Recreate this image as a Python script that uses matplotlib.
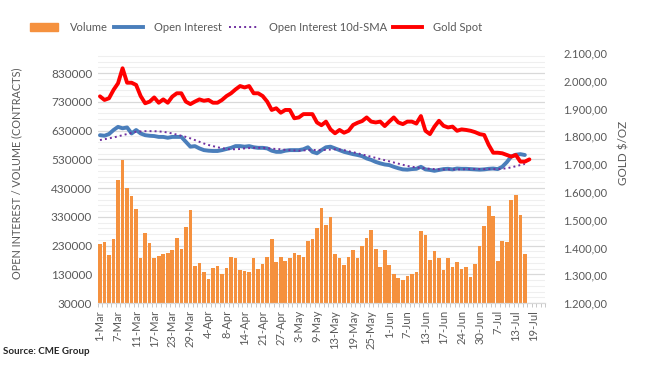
import numpy as np
import matplotlib
matplotlib.use("Agg")
import matplotlib.pyplot as plt
from matplotlib.lines import Line2D
from matplotlib.patches import Patch
from matplotlib.ticker import FixedLocator, FuncFormatter

plt.rcParams['font.family'] = ['Lato', 'DejaVu Sans']

# trading days 1-Mar .. 15-Jul (volume / OI), gold runs one day longer
volume = [234000, 241000, 196000, 252000, 457000, 527000, 429000, 401000, 356000, 187000,
          272000, 238000, 187000, 192000, 199000, 203000, 213000, 255000, 218000, 293000,
          352000, 158000, 168000, 137000, 112000, 151000, 158000, 130000, 151000, 189000,
          185000, 144000, 140000, 137000, 185000, 147000, 165000, 189000, 252000, 172000,
          189000, 175000, 185000, 203000, 196000, 189000, 245000, 252000, 290000, 359000,
          303000, 328000, 199000, 185000, 161000, 189000, 213000, 185000, 227000, 255000,
          283000, 217000, 154000, 213000, 161000, 130000, 116000, 109000, 123000, 130000,
          137000, 279000, 265000, 178000, 210000, 185000, 144000, 185000, 154000, 172000,
          147000, 154000, 119000, 165000, 227000, 297000, 366000, 332000, 175000, 245000,
          241000, 387000, 405000, 335000, 199000]

open_interest = [614000, 612000, 618000, 632000, 643000, 638000, 641000, 620000, 632000, 620000,
                 614000, 612000, 611000, 608000, 608000, 605000, 608000, 608000, 608000, 591000,
                 574000, 576000, 568000, 562000, 560000, 559000, 559000, 562000, 566000, 570000,
                 576000, 576000, 574000, 576000, 572000, 570000, 570000, 568000, 560000, 556000,
                 556000, 560000, 562000, 562000, 562000, 565000, 572000, 556000, 551000, 562000,
                 572000, 574000, 568000, 562000, 556000, 552000, 548000, 545000, 541000, 533000,
                 528000, 521000, 516000, 512000, 510000, 504000, 499000, 495000, 494000, 496000,
                 497000, 504000, 495000, 493000, 490000, 493000, 496000, 497000, 495000, 498000,
                 497000, 497000, 496000, 495000, 494000, 495000, 497000, 498000, 496000, 504000,
                 520000, 540000, 546000, 548000, 545000]

oi_sma = [597000, 600000, 603000, 606000, 610000, 614000, 618000, 622000, 626000, 627000,
          628000, 628000, 628000, 627000, 626000, 623000, 620000, 616000, 612000, 608000,
          603000, 597000, 591000, 585000, 580000, 576000, 572000, 569000, 566000, 565000,
          565000, 566000, 568000, 569000, 570000, 570000, 570000, 569000, 567000, 566000,
          565000, 563000, 562000, 561000, 560000, 561000, 562000, 563000, 562000, 562000,
          563000, 564000, 565000, 564000, 562000, 558000, 555000, 551000, 547000, 543000,
          539000, 535000, 531000, 527000, 523000, 519000, 515000, 511000, 507000, 504000,
          502000, 500000, 498000, 497000, 496000, 495000, 495000, 495000, 495000, 495000,
          495000, 496000, 496000, 496000, 496000, 496000, 496000, 496000, 496000, 497000,
          499000, 502000, 506000, 510000, 514000]

gold = [1944, 1931, 1937, 1967, 1991, 2045, 1993, 1993, 1985, 1945,
        1919, 1925, 1940, 1921, 1933, 1921, 1943, 1955, 1955, 1925,
        1916, 1925, 1933, 1928, 1931, 1921, 1921, 1931, 1945, 1955,
        1969, 1981, 1976, 1981, 1955, 1955, 1945, 1925, 1895, 1901,
        1885, 1895, 1895, 1865, 1868, 1880, 1880, 1880, 1850, 1840,
        1853, 1825, 1811, 1823, 1813, 1820, 1841, 1849, 1855, 1868,
        1853, 1850, 1853, 1837, 1853, 1868, 1850, 1844, 1853, 1853,
        1846, 1873, 1820, 1808, 1835, 1856, 1838, 1832, 1835, 1820,
        1825, 1823, 1820, 1815, 1808, 1805, 1769, 1741, 1741, 1739,
        1733, 1727, 1733, 1709, 1709, 1717]

n_days = 99  # category slots on the axis (to 21-Jul)
tick_labels = ['1-Mar', '7-Mar', '11-Mar', '17-Mar', '23-Mar', '29-Mar', '4-Apr', '8-Apr',
               '14-Apr', '21-Apr', '27-Apr', '3-May', '9-May', '13-May', '19-May', '25-May',
               '1-Jun', '7-Jun', '13-Jun', '17-Jun', '24-Jun', '30-Jun', '7-Jul', '13-Jul', '19-Jul']

grey = '#595959'

fig = plt.figure(figsize=(6.45, 3.73), dpi=100)
ax = fig.add_axes([97.7 / 645, 70 / 373, 447.5 / 645, 250 / 373])
ax2 = ax.twinx()

x_vol = np.arange(len(volume))
ax.bar(x_vol, volume, width=0.8, color='#F5913E', zorder=2)
ax.plot(np.arange(len(oi_sma)), oi_sma, color='#7030A0', lw=1.4, ls=(0, (1, 1.6)), zorder=4)
ax.plot(np.arange(len(open_interest)), open_interest, color='#4A7EBB', lw=2.8,
        solid_capstyle='round', zorder=3)
ax2.plot(np.arange(len(gold)), gold, color='#FF0000', lw=2.8, solid_capstyle='round',
         solid_joinstyle='round')

ax.set_xlim(-0.5, n_days - 0.5)
ax.set_ylim(30000, 900000)
ax2.set_ylim(1200, 2100)

ax.set_yticks(np.arange(30000, 830001, 100000))
ax.yaxis.set_minor_locator(FixedLocator(np.arange(30000, 900001, 20000)))
ax.grid(axis='y', which='major', color='#D9D9D9', lw=0.9, zorder=0)
ax.grid(axis='y', which='minor', color='#EFEFEF', lw=0.8, zorder=0)
ax.set_axisbelow(True)
ax.tick_params(axis='y', which='both', length=0, labelsize=8.5, labelcolor=grey, pad=4)

ax2.set_yticks(np.arange(1200, 2101, 100))
ax2.yaxis.set_major_formatter(FuncFormatter(
    lambda v, p: f"{v:,.2f}".replace(',', 'X').replace('.', ',').replace('X', '.')))
ax2.tick_params(axis='y', length=0, labelsize=8, labelcolor=grey, pad=13)

ax.set_xticks(np.arange(0, 4 * len(tick_labels), 4))
ax.set_xticklabels(tick_labels, rotation=90)
ax.set_xticks(np.arange(-0.5, n_days, 1), minor=True)
ax.tick_params(axis='x', which='major', length=0, labelsize=8, labelcolor=grey, pad=5)
ax.tick_params(axis='x', which='minor', length=3, color='#BFBFBF', width=0.6)

for a in (ax, ax2):
    for s in ('top', 'left', 'right'):
        a.spines[s].set_visible(False)
    a.spines['bottom'].set_color('#D9D9D9')

ax.set_ylabel('OPEN INTEREST / VOLUME (CONTRACTS)', fontsize=7.8, color=grey)
ax.yaxis.set_label_coords(-0.168, 0.52)
ax2.set_ylabel('GOLD $/OZ', fontsize=8.5, color=grey, rotation=90)
ax2.yaxis.set_label_coords(1.163, 0.6)

handles = [Patch(color='#F5913E'),
           Line2D([], [], color='#4A7EBB', lw=2.8),
           Line2D([], [], color='#7030A0', lw=1.4, ls=(0, (1, 1.6))),
           Line2D([], [], color='#FF0000', lw=2.8)]
labels = ['Volume', 'Open Interest', 'Open Interest 10d-SMA', 'Gold Spot']
leg = fig.legend(handles, labels, loc='center', bbox_to_anchor=(0.397, 0.927), ncol=4,
                 frameon=False, fontsize=8, handlelength=2.6, handletextpad=1.0,
                 columnspacing=0.6, labelcolor=grey)

fig.text(0.004, 0.05, 'Source: CME Group', fontsize=7, fontweight='bold', color='#262626')

fig.savefig('out.png', dpi=100, facecolor='white')
